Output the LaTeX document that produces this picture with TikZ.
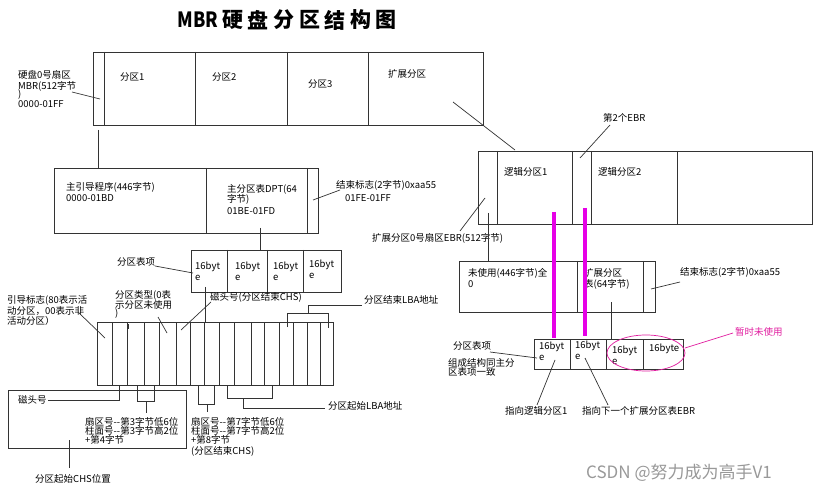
\documentclass[tikz,border=0pt]{standalone}
\usepackage{fontspec}
\setmainfont{Noto Sans CJK SC}
\newcommand{\fnorm}{\fontsize{9.5}{10}\selectfont}
\newcommand{\dd}{-{}-}
\definecolor{mag}{RGB}{230,0,230}
\definecolor{pinkmag}{RGB}{225,30,160}
\begin{document}
\begin{tikzpicture}[x=1pt,y=-1pt,
  ln/.style={draw=black!80, line width=0.7pt},
  lbl/.style={anchor=west, inner sep=0pt, font=\fnorm},
  hot/.style={draw=mag, line width=3.2pt},
  pinkline/.style={draw=pinkmag, line width=0.7pt}]
\useasboundingbox (0,0) rectangle (815,492);
\fill[white] (0,0) rectangle (815,492);

% ---------- title ----------
\node[anchor=center, inner sep=0pt, font=\fontsize{21}{21}\selectfont\bfseries, xscale=0.85] (title) at (198,20) {MBR};
\foreach \c [count=\i] in {硬,盘,分,区,结,构,图}
  \node[inner sep=0pt, font=\fontsize{21}{21}\selectfont\bfseries] (t\i) at ({220+12.8+(\i-1)*25.6},20) {\c};

% ---------- MBR disk box ----------
\draw[ln] (93,52) rectangle (483,125);
\foreach \x in {104,195,287,368} \draw[ln] (\x,52) -- (\x,125);
\node[lbl] (p1) at (120,77) {分区1};
\node[lbl] (p2) at (212,77) {分区2};
\node[lbl] (p3) at (308,84) {分区3};
\node[lbl] (pext) at (388,74) {扩展分区};
\node[lbl] (m1) at (18,75) {硬盘0号扇区};
\node[lbl] (m2) at (18,86) {MBR(512字节};
\node[lbl] (m3) at (18,95) {)};
\node[lbl] (m4) at (18,104) {0000-01FF};
\coordinate (mbrpt) at (100,99);
\draw[ln] (72,92) -- (mbrpt);
\draw[ln] (98,130) -- (98,168);

% ---------- boot sector box ----------
\draw[ln] (54,168) rectangle (318,233);
\foreach \x in {206,307} \draw[ln] (\x,168) -- (\x,233);
\node[lbl] (b1) at (66,187) {主引导程序(446字节)};
\node[lbl] (b2) at (66,198) {0000-01BD};
\node[lbl] (d1) at (227,189) {主分区表DPT(64};
\node[lbl] (d2) at (227,199) {字节)};
\node[lbl] (d3) at (227,211) {01BE-01FD};
\node[lbl] (e1) at (336,185) {结束标志(2字节)0xaa55};
\node[lbl] (e2) at (345,198) {01FE-01FF};
\draw[ln] (313,200) -- (340,190);
\draw[ln] (260,228) -- (260,250);

% ---------- 4 partition entries ----------
\draw[ln] (191,250) rectangle (341,292);
\foreach \x in {227,267,303} \draw[ln] (\x,250) -- (\x,292);
\foreach \x [count=\i] in {195,235,273} {
  \node[lbl] (q\i a) at (\x,267) {16byt};
  \node[lbl] (q\i b) at (\x,278) {e};
}
\node[lbl] (q4a) at (309,265) {16byt};
\node[lbl] (q4b) at (309,276) {e};
\node[lbl] (pte) at (117,262) {分区表项};
\draw[ln] (155,266) -- (193,273);
\draw[ln] (205,287) -- (205,322);

% ---------- 16-byte entry ----------
\draw[ln] (97,322) rectangle (333,385);
\foreach \x in {112,127,144,159,176,190,204,219,234,251,264,279,293,307,320}
  \draw[ln] (\x,322) -- (\x,385);
\node[lbl] (g1) at (7,300) {引导标志(80表示活};
\node[lbl] (g2) at (7,311) {动分区，00表示非};
\node[lbl] (g3) at (7,321) {活动分区）};
\draw[ln] (78,312) -- (105,338);
\node[lbl] (k1) at (115,295) {分区类型(0表};
\node[lbl] (k2) at (115,305) {示分区未使用};
\node[lbl] (k3) at (115,314) {)};
\draw[ln] (158,317) -- (167,333);
\draw[ln] (128,324) -- (128,329);
\node[lbl] (h1) at (210,297) {磁头号(分区结束CHS)};
\draw[ln] (211,302) -- (181,330);
\draw[ln] (287,327) -- (287,313) -- (328,313) -- (328,328);
\draw[ln] (308,313) -- (308,305) -- (362,305);
\node[lbl] (lbaend) at (364,300) {分区结束LBA地址};

% ---------- below the entry ----------
\draw[ln] (8,390) rectangle (186,448);
\node[lbl] (hd) at (18,400) {磁头号};
\draw[ln] (48,400) -- (119,400) -- (119,385);
\draw[ln] (137,385) -- (137,401) -- (154,401) -- (154,385);
\draw[ln] (146,401) -- (146,413);
\node[lbl] (s1) at (85,422) {扇区号\dd 第3字节低6位};
\node[lbl] (s2) at (85,431) {柱面号\dd 第3字节高2位};
\node[lbl] (s3) at (85,440) {+第4字节};
\draw[ln] (69,440) -- (69,468);
\node[lbl] (chs) at (35,479) {分区起始CHS位置};
\draw[ln] (198,385) -- (198,404) -- (214,404) -- (214,385);
\draw[ln] (207,404) -- (207,412);
\node[lbl] (u1) at (191,422) {扇区号\dd 第7字节低6位};
\node[lbl] (u2) at (191,431) {柱面号\dd 第7字节高2位};
\node[lbl] (u3) at (191,440) {+第8字节};
\node[lbl] (u4) at (191,451) {(分区结束CHS)};
\draw[ln] (227,385) -- (227,398) -- (272,398) -- (272,385);
\draw[ln] (243,398) -- (243,408) -- (325,408);
\node[lbl] (lbastart) at (328,406) {分区起始LBA地址};

% ---------- extended partition ----------
\draw[ln] (453,102) -- (515,150);
\draw[ln] (478,151) rectangle (812,224);
\foreach \x in {497,572,591,677} \draw[ln] (\x,151) -- (\x,224);
\node[lbl] (l1) at (504,172) {逻辑分区1};
\node[lbl] (l2) at (598,172) {逻辑分区2};
\node[lbl] (ebr2) at (603,118) {第2个EBR};
\draw[ln] (610,125) -- (580,158);
\node[lbl] (ebr0) at (372,238) {扩展分区0号扇区EBR(512字节)};
\draw[ln] (460,231) -- (485,198);
\draw[ln] (488,213) -- (488,261);

% ---------- EBR sector box ----------
\draw[ln] (459,261) rectangle (655,312);
\foreach \x in {577,643} \draw[ln] (\x,261) -- (\x,312);
\node[lbl] (n1) at (468,273) {未使用(446字节)全};
\node[lbl] (n2) at (468,284) {0};
\node[lbl] (x1) at (584,273) {扩展分区};
\node[lbl] (x2) at (584,284) {表(64字节)};
\node[lbl] (f1) at (680,272) {结束标志(2字节)0xaa55};
\draw[ln] (651,289) -- (680,282);
\draw[ln] (611,302) -- (611,339);

% ---------- EBR entries ----------
\draw[ln] (534,339) rectangle (683,369);
\foreach \x in {570,606,643} \draw[ln] (\x,339) -- (\x,369);
\node[lbl] (r1a) at (539,347) {16byt};
\node[lbl] (r1b) at (539,358) {e};
\node[lbl] (r2a) at (575,346) {16byt};
\node[lbl] (r2b) at (575,357) {e};
\node[lbl] (r3a) at (612,351) {16byt};
\node[lbl] (r3b) at (612,362) {e};
\node[lbl] (r4a) at (649,349) {16byte};
\draw[pinkline] (646,353) ellipse [x radius=39, y radius=18];
\node[lbl, text=pinkmag] (unused) at (735,332) {暂时未使用};
\draw[pinkline] (685,348) -- (733,333);
\draw[hot] (554,212) -- (554,338);
\draw[hot] (585,208) -- (585,336);
\node[lbl] (pte2) at (453,346) {分区表项};
\draw[ln] (490,352) -- (537,358);
\node[lbl] (c1) at (448,363) {组成结构同主分};
\node[lbl] (c2) at (448,372) {区表项一致};
\node[lbl] (to1) at (505,411) {指向逻辑分区1};
\draw[ln] (537,405) -- (555,360);
\node[lbl] (to2) at (582,411) {指向下一个扩展分区表EBR};
\draw[ln] (608,405) -- (585,358);

% ---------- watermark ----------
\node[anchor=west, inner sep=0pt, font=\fontsize{17}{17}\selectfont, text=black!40] (wm) at (586,473) {CSDN @努力成为高手V1};
\end{tikzpicture}
\end{document}
